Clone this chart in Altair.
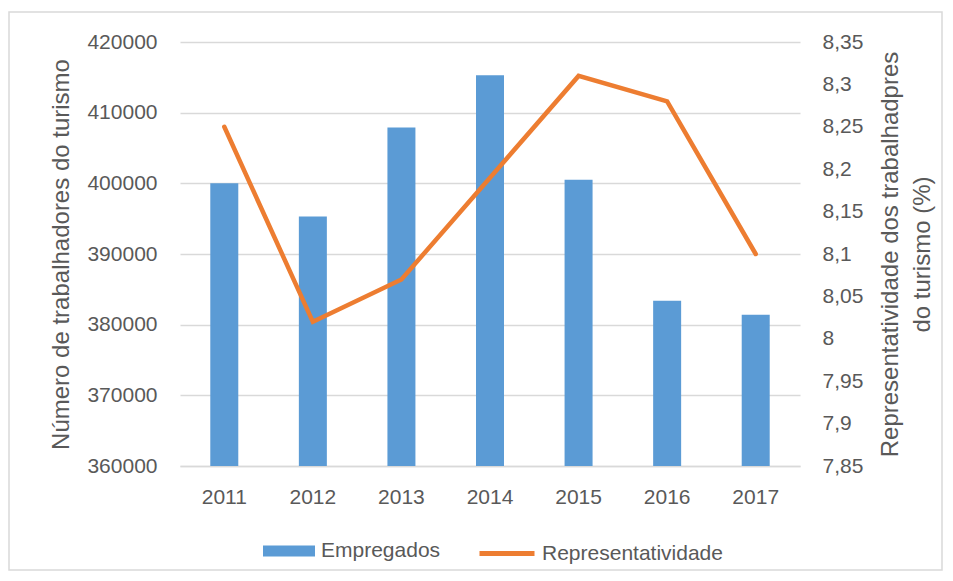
import altair as alt
import pandas as pd

anos = ["2011", "2012", "2013", "2014", "2015", "2016", "2017"]
empregados = [400000, 395300, 407900, 415300, 400500, 383400, 381400]
representatividade = [8.25, 8.02, 8.07, 8.19, 8.31, 8.28, 8.10]
left_ticks = [360000, 370000, 380000, 390000, 400000, 410000, 420000]
right_ticks = [7.85, 7.9, 7.95, 8.0, 8.05, 8.1, 8.15, 8.2, 8.25, 8.3, 8.35]
serie_barras = "Empregados"
serie_linha = "Representatividade"
titulo_esq = "Número de trabalhadores do turismo"
titulo_dir = ["Representatividade dos trabalhadpres", "do turismo (%)"]

df = pd.DataFrame({
    "ano": anos,
    "emp": empregados,
    "rep": representatividade,
    "s1": [serie_barras] * len(anos),
    "s2": [serie_linha] * len(anos),
})

FONT = "Liberation Sans"
GRAY = "#595959"
GRID = "#D9D9D9"
W, H = 620, 424

x_enc = alt.X(
    "ano:N", sort=anos, title=None,
    scale=alt.Scale(paddingInner=0, paddingOuter=0),
    axis=alt.Axis(labelAngle=0, ticks=False, domainColor=GRID, domainWidth=1.5,
                  labelPadding=20, labelFontSize=21, labelColor=GRAY, labelFont=FONT,
                  grid=False),
)

bars = alt.Chart(df).mark_bar(size=28).encode(
    x=x_enc,
    y=alt.Y(
        "emp:Q",
        scale=alt.Scale(domain=[360000, 420000], zero=False, nice=False),
        axis=alt.Axis(
            values=left_ticks, format="d", title=titulo_esq,
            ticks=False, domain=False, grid=True, gridColor=GRID, gridWidth=1.5,
            labelPadding=23, labelFontSize=21, labelColor=GRAY, labelFont=FONT,
            titleFont=FONT, titleFontSize=24, titleColor=GRAY, titleFontWeight="normal",
            titleAngle=270, titleX=-119, titleY=H / 2, titleAlign="center",
            titleBaseline="middle",
        ),
    ),
    y2=alt.datum(left_ticks[0]),
    fill=alt.Fill(
        "s1:N",
        scale=alt.Scale(domain=[serie_barras], range=["#5B9BD5"]),
        legend=alt.Legend(
            title=None, orient="none", legendX=83, legendY=483,
            symbolType="M-1,-0.21H1V0.21H-1Z", symbolSize=2704,
            symbolStrokeWidth=0, symbolOpacity=1,
            labelFont=FONT, labelFontSize=21, labelColor=GRAY, labelOffset=6,
            labelLimit=0, padding=0,
        ),
    ),
)

line = alt.Chart(df).mark_line(strokeWidth=4.5, strokeCap="round", strokeJoin="miter").encode(
    x=x_enc,
    y=alt.Y(
        "rep:Q",
        scale=alt.Scale(domain=[7.85, 8.35], zero=False, nice=False),
        axis=alt.Axis(
            orient="right", values=right_ticks,
            labelExpr="replace(format(datum.value, '.2~f'), '.', ',')",
            title=titulo_dir, grid=False, ticks=False, domain=False,
            labelPadding=22, labelFontSize=21, labelColor=GRAY, labelFont=FONT,
            titleFont=FONT, titleFontSize=24, titleColor=GRAY, titleFontWeight="normal",
            titleAngle=270, titleX=90, titleY=H / 2, titleAlign="center",
            titleBaseline="middle", titleLineHeight=32,
        ),
    ),
    stroke=alt.Stroke(
        "s2:N",
        scale=alt.Scale(domain=[serie_linha], range=["#ED7D31"]),
        legend=alt.Legend(
            title=None, orient="none", legendX=297, legendY=481.5,
            symbolType="stroke", symbolSize=3025, symbolStrokeWidth=5,
            labelFont=FONT, labelFontSize=21, labelColor=GRAY, labelOffset=5,
            labelLimit=0, padding=0,
        ),
    ),
)

frame = alt.Chart(alt.Data(values=[{}])).mark_rect(
    filled=False, stroke=GRID, strokeWidth=1.5
).encode(
    x=alt.value(-171), x2=alt.value(W + 142),
    y=alt.value(-30), y2=alt.value(H + 104),
)

chart = alt.layer(frame, bars, line).resolve_scale(
    y="independent", fill="independent", stroke="independent"
).properties(
    width=W, height=H,
    autosize=alt.AutoSizeParams(type="none"),
    padding={"left": 172, "top": 34, "right": 143, "bottom": 105},
    background="white",
).configure_view(stroke=None)

chart.save("out.html", embed_options={"renderer": "svg", "actions": False})
